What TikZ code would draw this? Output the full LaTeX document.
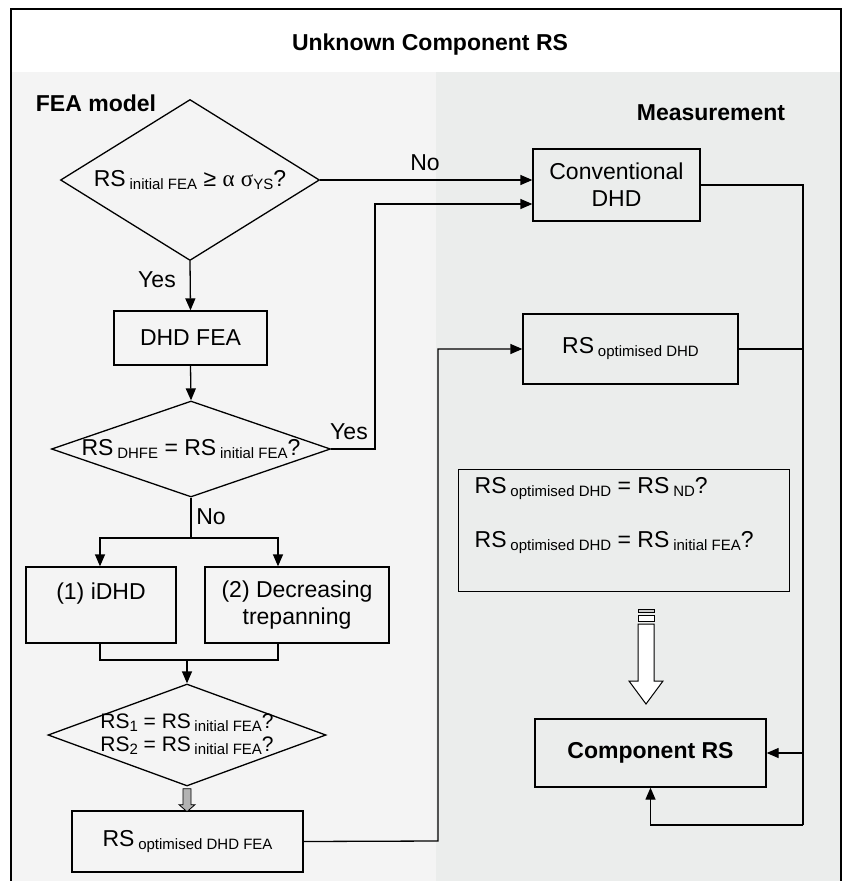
\documentclass[tikz,border=0pt]{standalone}
\usepackage{fontspec}
\setmainfont{Liberation Sans}
\newfontfamily\grkfont{Liberation Serif}
\usetikzlibrary{shapes.geometric,arrows.meta}
\definecolor{leftbg}{HTML}{F4F4F4}
\definecolor{rightbg}{HTML}{EBEDEC}
\newcommand{\bigtxt}{\fontsize{23}{27}\selectfont}
\newcommand{\lowsub}[1]{\raisebox{-3pt}{\fontsize{15}{15}\selectfont\spaceskip=0pt\xspaceskip=0pt #1}}

\begin{document}
\begin{tikzpicture}[x=1pt, y=-1pt, line width=1.3pt,
  box/.style={draw, rectangle, inner sep=0pt, font=\bigtxt, align=center},
  dec/.style={draw, diamond, inner sep=0pt, font=\bigtxt},
  arr/.style={-{Triangle[length=12pt,width=10pt]}},
  tag/.style={inner sep=0pt, font=\bigtxt}]
\useasboundingbox (0,0) rectangle (843,881);
% panels
\fill[leftbg] (11,72) rectangle (436,881);
\fill[rightbg] (436,72) rectangle (841,881);
\draw (11,881) -- (11,9) -- (841,9) -- (841,881);
\node[tag, font=\bfseries\bigtxt] (title) at (430,45) {Unknown Component RS};
\node[tag, font=\bfseries\bigtxt] (fealbl) at (96,103) {FEA model};
\node[tag, font=\bfseries\bigtxt] (measlbl) at (711,113) {Measurement};
% FEA model side
\node[dec, minimum width=259pt, minimum height=161pt] (dia1) at (190,180)
  {\makebox[0pt]{RS\,\lowsub{initial FEA} ≥ {\grkfont α} {\grkfont σ}\lowsub{YS}?}};
\node[box, minimum width=153pt, minimum height=54pt] (dhdfea) at (190.5,338) {DHD FEA};
\node[dec, minimum width=279pt, minimum height=96pt] (dia2) at (191,449)
  {\makebox[0pt]{RS\,\lowsub{DHFE} = RS\,\lowsub{initial FEA}?}};
\node[box, minimum width=150pt, minimum height=76pt] (idhd) at (101,605) {(1) iDHD\\\mbox{}};
\node[box, minimum width=184pt, minimum height=76pt] (decr) at (297,605) {(2) Decreasing\\trepanning};
\node[dec, minimum width=278pt, minimum height=102pt] (dia3) at (187,735)
  {\makebox[0pt]{\fontsize{21}{23}\selectfont\begin{tabular}{@{}c@{}}
   RS\lowsub{1} = RS\,\lowsub{initial FEA}?\\
   RS\lowsub{2} = RS\,\lowsub{initial FEA}?\end{tabular}}};
\node[box, minimum width=231pt, minimum height=61pt] (optfea) at (187.5,841.5) {RS\,\lowsub{optimised DHD FEA}};
% Measurement side
\node[box, minimum width=167pt, minimum height=72pt] (conv) at (616.5,185) {Conventional\\DHD};
\node[box, minimum width=215pt, minimum height=70pt] (optdhd) at (630.5,349) {RS\,\lowsub{optimised DHD}};
\node[box, anchor=north west, minimum width=331pt, minimum height=122pt, text width=299pt,
  inner xsep=16pt, align=left] (eqbox) at (458,469)
  {\spaceskip=0pt\xspaceskip=0pt
   RS\,\lowsub{optimised DHD} = RS\,\lowsub{ND}?\\[27pt]
   RS\,\lowsub{optimised DHD} = RS\,\lowsub{initial FEA}?\rule[-36pt]{0pt}{36pt}};
\node[box, minimum width=231pt, minimum height=68pt, font=\bfseries\bigtxt] (comp) at (650.5,753) {Component RS};
% connectors
\draw[arr] (dia1.east) -- (dia1.east -| conv.west);
\node[tag] (nolbl1) at (425,163) {No};
\draw[arr] (dia1.south) -- (dhdfea.north);
\node[tag] (yeslbl1) at (157,280) {Yes};
\draw[arr] (dhdfea.south) -- (dia2.north);
\coordinate (yesup) at (375,204);
\draw[arr] (dia2.east) -| (yesup) -- (yesup -| conv.west);
\node[tag] (yeslbl2) at (349,432) {Yes};
\coordinate (split) at (191,538);
\coordinate (left1) at (100,538);
\coordinate (right1) at (278,538);
\draw (dia2.south) -- (split);
\draw[arr] (split) -- (left1) -- (left1 |- idhd.north);
\draw[arr] (split) -- (right1) -- (right1 |- decr.north);
\node[tag] (nolbl2) at (211,517) {No};
\coordinate (join) at (187,660);
\draw (left1 |- idhd.south) -- (left1 |- join) -- (right1 |- join) -- (right1 |- decr.south);
\draw[arr] (join) -- (dia3.north);
\draw[fill=gray!60, line width=0.8pt, shift={(dia3.south)}]
  (-4,2) -- (-4,18) -- (-8,18) -- (0,25) -- (8,18) -- (4,18) -- (4,2) -- cycle;
\coordinate (upline) at (438,841);
\draw[arr] (optfea.east) -- (upline) |- (optdhd.west);
\coordinate (rail) at (803,185);
\coordinate (railend) at (803,825);
\draw (conv.east) -- (rail) -- (railend);
\draw (optdhd.east) -- (optdhd.east -| rail);
\draw[arr] (rail |- comp.east) -- (comp.east);
\draw[arr] (railend) -| (comp.south);
% hollow arrow
\begin{scope}[shift={(646,0)}, line width=1pt]
\draw[fill=gray!40] (-8,609) rectangle (8,612);
\draw[fill=white] (-8,615) rectangle (8,621);
\draw[fill=white] (-8,624) -- (-8,681) -- (-17,681) -- (0,704) -- (17,681) -- (8,681) -- (8,624) -- cycle;
\end{scope}
\end{tikzpicture}
\end{document}
